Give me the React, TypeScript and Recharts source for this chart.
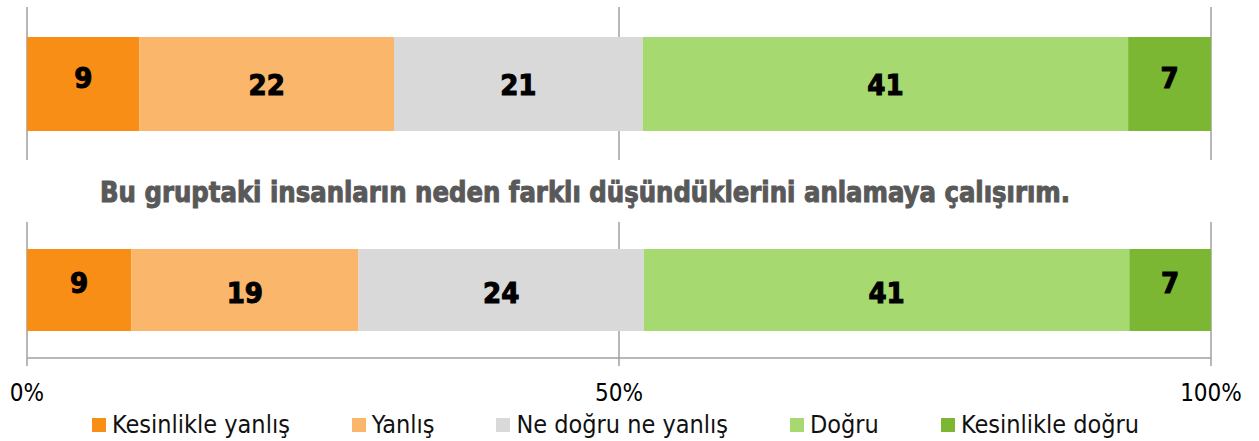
import React from 'react';
import { BarChart, Bar, XAxis, YAxis, CartesianGrid, LabelList } from 'recharts';

const categories = ['Kesinlikle yanlış', 'Yanlış', 'Ne doğru ne yanlış', 'Doğru', 'Kesinlikle doğru'];
const seriesKeys = ['s0', 's1', 's2', 's3', 's4'];
const colors = ['#F88E16', '#FAB66A', '#D9D9D9', '#A7D971', '#7BB732'];

const topValues = [9.5, 21.5, 21.0, 41.0, 7.0];
const topLabels = [9, 22, 21, 41, 7];
const bottomValues = [8.8, 19.2, 24.1, 41.0, 6.9];
const bottomLabels = [9, 19, 24, 41, 7];
const tickValues = [0, 50, 100];
const tickLabels = ['0%', '50%', '100%'];
const title = 'Bu gruptaki insanların neden farklı düşündüklerini anlamaya çalışırım.';

const buildRow = (name: string, values: number[], labels: number[]) => {
  const row: Record<string, string | number> = { name };
  values.forEach((v, i) => {
    row[seriesKeys[i]] = v;
    row['l' + i] = labels[i];
  });
  return [row];
};

const topData = buildRow('top', topValues, topLabels);
const bottomData = buildRow('bottom', bottomValues, bottomLabels);

const FONT = '"DejaVu Sans Condensed", "DejaVu Sans", sans-serif';
const GRID = '#A0A0A0';

const makeLabel = (shift: number) => (props: any) => {
  const { x, y, width, height, value } = props;
  return (
    <text
      x={Number(x) + Number(width) / 2}
      y={Number(y) + Number(height) / 2 + shift}
      textAnchor="middle"
      dominantBaseline="central"
      fontFamily={FONT}
      fontWeight="bold"
      fontSize={29}
      fill="#000"
      stroke="#000"
      strokeWidth={1}
    >
      {value}
    </text>
  );
};

const topShift = [-6, 1, 1, 1, -6];
const bottomShift = [-7, 3, 3, 3, -7];

const renderBars = (shifts: number[]) =>
  seriesKeys.map((k, i) => (
    <Bar key={k} dataKey={k} name={categories[i]} stackId="a" fill={colors[i]} isAnimationActive={false}>
      <LabelList dataKey={'l' + i} content={makeLabel(shifts[i])} />
    </Bar>
  ));

export default function App() {
  return (
    <div style={{ position: 'absolute', left: 0, top: 0, width: 1259, height: 441, background: '#fff', overflow: 'hidden' }}>
      <div style={{ position: 'absolute', left: 0, top: 0 }}>
        <BarChart
          width={1259}
          height={165}
          data={topData}
          layout="vertical"
          margin={{ top: 7, right: 48, left: 27, bottom: 5 }}
          barSize={94}
        >
          <CartesianGrid horizontal={false} vertical={true} stroke={GRID} strokeWidth={1.5} />
          <XAxis type="number" domain={[0, 100]} ticks={tickValues} hide />
          <YAxis type="category" dataKey="name" hide />
          {renderBars(topShift)}
        </BarChart>
      </div>

      <svg style={{ position: 'absolute', left: 0, top: 170 }} width={1259} height={45}>
        <text
          x={585}
          y={32}
          textAnchor="middle"
          textLength={970}
          lengthAdjust="spacingAndGlyphs"
          fontFamily={FONT}
          fontWeight="bold"
          fontSize={29}
          fill="#595959"
          stroke="#595959"
          strokeWidth={1}
        >
          {title}
        </text>
      </svg>

      <div style={{ position: 'absolute', left: 0, top: 215 }}>
        <BarChart
          width={1259}
          height={193}
          data={bottomData}
          layout="vertical"
          margin={{ top: 7, right: 48, left: 27, bottom: 0 }}
          barSize={82}
        >
          <CartesianGrid horizontal={false} vertical={true} stroke={GRID} strokeWidth={1.5} />
          <XAxis
            type="number"
            domain={[0, 100]}
            ticks={tickValues}
            tickFormatter={(v: number) => tickLabels[tickValues.indexOf(v)]}
            height={50}
            tickSize={8}
            tickMargin={18}
            axisLine={{ stroke: GRID, strokeWidth: 1.5 }}
            tickLine={{ stroke: GRID, strokeWidth: 1.5 }}
            tick={{ fontFamily: FONT, fontSize: 24, fill: '#000' }}
            interval={0}
          />
          <YAxis type="category" dataKey="name" hide />
          {renderBars(bottomShift)}
        </BarChart>
      </div>

      <div
        style={{
          position: 'absolute',
          left: 0,
          top: 413,
          width: 1231,
          display: 'flex',
          justifyContent: 'center',
          alignItems: 'center',
          gap: 62,
          fontFamily: FONT,
          fontSize: 25,
          lineHeight: '23px',
          color: '#111',
          whiteSpace: 'nowrap',
        }}
      >
        {categories.map((c, i) => (
          <div key={c} style={{ display: 'flex', alignItems: 'center' }}>
            <span style={{ display: 'inline-block', width: 14, height: 14, background: colors[i], marginRight: 6 }} />
            <span>{c}</span>
          </div>
        ))}
      </div>
    </div>
  );
}
